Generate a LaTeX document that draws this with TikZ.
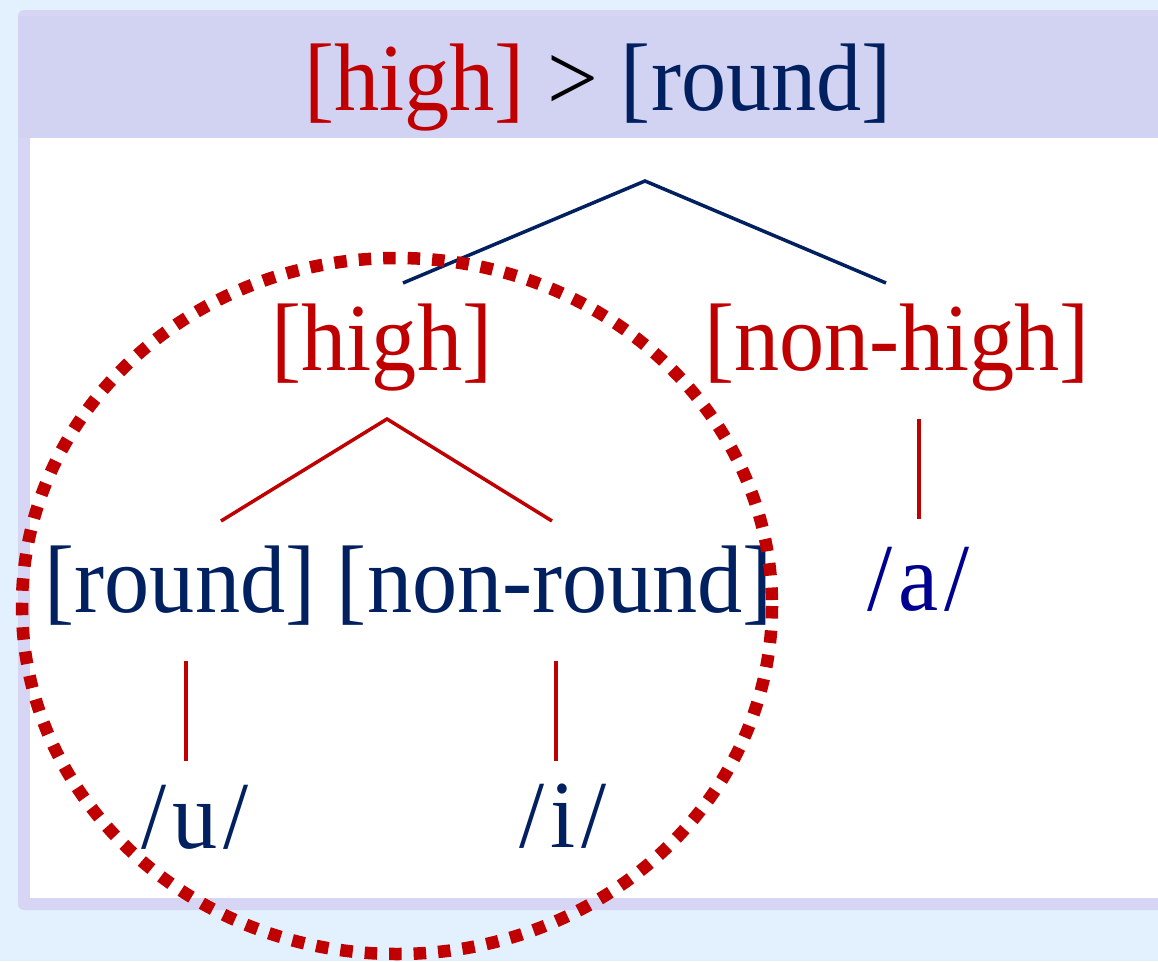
\documentclass[tikz,border=0pt]{standalone}
\usepackage{fontspec}
\setmainfont{Liberation Serif}[FakeStretch=0.94]
\definecolor{bgc}{HTML}{E3F1FE}
\definecolor{borderc}{HTML}{D6D6F4}
\definecolor{titlec}{HTML}{D2D2F3}
\definecolor{hred}{HTML}{C00000}
\definecolor{navy}{HTML}{002060}
\definecolor{ablue}{HTML}{000090}
\begin{document}
\begin{tikzpicture}[x=1pt,y=-1pt,
  lab/.style={inner sep=0pt, anchor=base, font=\fontsize{96}{100}\selectfont},
  navyline/.style={draw=navy, line width=3.5pt},
  redline/.style={draw=hred, line width=3.5pt},
  circ/.style={draw=hred, line width=12.5pt, dash pattern=on 12.5pt off 12pt}]
\fill[bgc] (0,0) rectangle (1158,961);
\useasboundingbox (0,0) rectangle (1158,961);
\fill[borderc, rounded corners=6pt] (18,10) rectangle (1190,910);
\fill[titlec] (18,16) rectangle (1190,138);
\fill[white] (30,138) rectangle (1190,898);
% nodes
\node[lab] (title) at (598,110) {\color{hred}[high] \color{black}> \color{navy}[round]};
\node[lab, text=hred] (high) at (382,370) {[high]};
\node[lab, text=hred] (nonhigh) at (897,370) {[non-high]};
\node[lab, text=navy] (round) at (180,612) {[round]};
\node[lab, text=navy] (nonround) at (555,612) {[non-round]};
\node[lab, text=ablue] (a) at (919,610) {/\kern6pt a\kern6pt/};
\node[lab, text=navy] (u) at (195,848) {/\kern6pt u\kern6pt/};
\node[lab, text=navy] (i) at (563,847) {/\kern6pt i\kern6pt/};
% connector points
\coordinate (t0) at (645,181);
\coordinate (tl) at (403,283);
\coordinate (tr) at (886,283);
\coordinate (h0) at (387,419);
\coordinate (hl) at (221,521);
\coordinate (hr) at (552,521);
\coordinate (nh0) at (919,419);
\coordinate (nh1) at (919,519);
\coordinate (r0) at (186,661);
\coordinate (r1) at (186,761);
\coordinate (nr0) at (556,661);
\coordinate (nr1) at (556,761);
\draw[navyline] (tl) -- (t0) -- (tr);
\draw[redline] (hl) -- (h0) -- (hr);
\draw[redline] (nh0) -- (nh1);
\draw[redline] (r0) -- (r1);
\draw[redline] (nr0) -- (nr1);
\coordinate (cc) at (397,606);
\draw[circ] (cc) ellipse [x radius=375, y radius=348];
\end{tikzpicture}
\end{document}
